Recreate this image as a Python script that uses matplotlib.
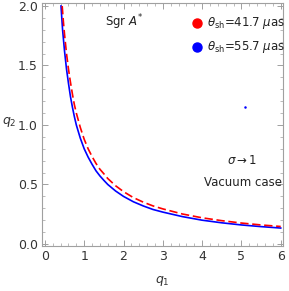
import numpy as np
import matplotlib
matplotlib.use("Agg")
import matplotlib.pyplot as plt

# curves (q1, q2)
q1_blue = [0.41, 0.45, 0.5, 0.55, 0.6, 0.65, 0.7, 0.75, 0.8, 0.9, 1.0, 1.1, 1.2, 1.3, 1.4, 1.5, 1.6, 1.8,
           2.0, 2.25, 2.5, 2.75, 3.0, 3.5, 4.0, 4.5, 5.0, 5.5, 6.0]
q2_blue = [2.0, 1.80, 1.62, 1.47, 1.35, 1.24, 1.15, 1.07, 1.0, 0.89, 0.80, 0.73, 0.67, 0.615, 0.572, 0.535, 0.50, 0.445,
           0.40, 0.355, 0.32, 0.29, 0.268, 0.23, 0.20, 0.178, 0.16, 0.146, 0.134]
q1_red = [0.44, 0.47, 0.5, 0.55, 0.6, 0.65, 0.7, 0.75, 0.8, 0.9, 1.0, 1.1, 1.2, 1.3, 1.4, 1.5, 1.6, 1.8,
          2.0, 2.25, 2.5, 2.75, 3.0, 3.5, 4.0, 4.5, 5.0, 5.5, 6.0]
q2_red = [2.0, 1.87, 1.76, 1.60, 1.47, 1.36, 1.26, 1.17, 1.10, 0.98, 0.88, 0.80, 0.735, 0.677, 0.628, 0.59, 0.55, 0.489,
          0.44, 0.39, 0.352, 0.32, 0.295, 0.252, 0.22, 0.196, 0.176, 0.16, 0.147]

legend_labels = [r"$\theta_{\rm sh}$=41.7 $\mu$as", r"$\theta_{\rm sh}$=55.7 $\mu$as"]
legend_colors = ["#ff0000", "#0000ff"]

fig = plt.figure(figsize=(2.89, 2.91), dpi=100)
ax = fig.add_axes([0.145, 0.1546, 0.834, 0.835])

ax.plot(q1_blue, q2_blue, color="#0000ff", lw=1.2, zorder=2)
ax.plot(q1_red, q2_red, color="#ff0000", lw=1.2, dashes=(5, 2.2), zorder=3)

ax.set_xlim(-0.076, 6.056)
ax.set_ylim(-0.017, 2.025)
ax.set_xticks(range(7))
ax.set_xticks(np.arange(0, 6.01, 0.2), minor=True)
ax.set_yticks([0.0, 0.5, 1.0, 1.5, 2.0])
ax.set_yticks(np.arange(0, 2.01, 0.1), minor=True)
ax.set_yticklabels(["0.0", "0.5", "1.0", "1.5", "2.0"])

for s in ax.spines.values():
    s.set_color("#a0a0a0")
    s.set_linewidth(0.8)
ax.tick_params(which="both", direction="in", color="#a0a0a0", top=True, right=True,
               labeltop=False, labelright=False, labelsize=9, labelcolor="#333333")
ax.tick_params(which="major", length=4, width=0.7, pad=3)
ax.tick_params(which="minor", length=2, width=0.5)

ax.set_xlabel(r"$q_1$", fontsize=9, color="#333333", labelpad=8)
ax.set_ylabel(r"$q_2$", fontsize=9, color="#333333", rotation=0, labelpad=12)
ax.yaxis.set_label_coords(-0.135, 0.48)

# legend: dots + text placed in figure coordinates
for i, (lab, col) in enumerate(zip(legend_labels, legend_colors)):
    y = 1 - (23.3 + 23.4 * i) / 291
    fig.lines.append(plt.Line2D([196.7 / 289], [y], marker="o", ms=6.5, color=col,
                                transform=fig.transFigure, ls=""))
    fig.text(207 / 289, y, lab, fontsize=8.5, color="#222222", va="center", ha="left")

fig.text(124 / 289, 1 - 22 / 291, r"Sgr $A^{*}$", fontsize=8.5, color="#222222", ha="center", va="center")
fig.text(242.5 / 289, 1 - 160 / 291, r"$\sigma$$\rightarrow$1", fontsize=8.5, color="#222222", ha="center", va="center")
fig.text(243 / 289, 1 - 183 / 291, "Vacuum case", fontsize=8.5, color="#222222", ha="center", va="center")
fig.lines.append(plt.Line2D([245 / 289], [1 - 107.3 / 291], marker="o", ms=0.8, color="#0000ff",
                            transform=fig.transFigure, ls=""))

fig.savefig("out.png", dpi=100)
